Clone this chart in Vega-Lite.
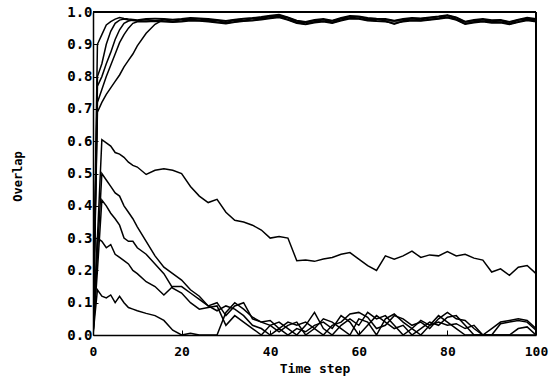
{
"$schema": "https://vega.github.io/schema/vega-lite/v6.json",
"width": 443, "height": 323,
"autosize": {"type": "none"},
"padding": {"left": 93, "top": 12, "right": 19, "bottom": 43},
"background": "white",
"config": {"view": {"stroke": null}, "axis": {"labelFont": "DejaVu Sans Mono", "labelFontWeight": "bold", "labelFontSize": 14, "labelColor": "black", "titleFont": "DejaVu Sans Mono", "titleFontWeight": "bold", "titleFontSize": 13, "titleColor": "black", "domainColor": "black", "domainWidth": 1.5, "tickColor": "black", "tickWidth": 1, "grid": false, "labelFlush": false, "labelOverlap": false}},
"datasets": {"d": [
{"s":"a","t":0,"v":0},{"s":"a","t":1,"v":0.90},{"s":"a","t":2,"v":0.93},{"s":"a","t":3,"v":0.96},{"s":"a","t":4,"v":0.97},{"s":"a","t":5,"v":0.978},{"s":"a","t":6,"v":0.983},{"s":"a","t":7,"v":0.98},{"s":"a","t":8,"v":0.978},{"s":"a","t":9,"v":0.977},{"s":"a","t":10,"v":0.975},
{"s":"a","t":12,"v":0.979},{"s":"a","t":14,"v":0.980},{"s":"a","t":16,"v":0.979},{"s":"a","t":18,"v":0.977},{"s":"a","t":20,"v":0.979},{"s":"a","t":22,"v":0.982},{"s":"a","t":24,"v":0.981},{"s":"a","t":26,"v":0.979},{"s":"a","t":28,"v":0.976},{"s":"a","t":30,"v":0.973},{"s":"a","t":32,"v":0.977},{"s":"a","t":34,"v":0.980},{"s":"a","t":36,"v":0.982},{"s":"a","t":38,"v":0.985},{"s":"a","t":40,"v":0.989},{"s":"a","t":42,"v":0.992},{"s":"a","t":44,"v":0.984},{"s":"a","t":46,"v":0.974},{"s":"a","t":48,"v":0.970},{"s":"a","t":50,"v":0.976},{"s":"a","t":52,"v":0.979},{"s":"a","t":54,"v":0.974},{"s":"a","t":56,"v":0.982},{"s":"a","t":58,"v":0.988},{"s":"a","t":60,"v":0.987},{"s":"a","t":62,"v":0.982},{"s":"a","t":64,"v":0.980},{"s":"a","t":66,"v":0.979},{"s":"a","t":68,"v":0.974},{"s":"a","t":70,"v":0.979},{"s":"a","t":72,"v":0.982},{"s":"a","t":74,"v":0.981},{"s":"a","t":76,"v":0.984},{"s":"a","t":78,"v":0.987},{"s":"a","t":80,"v":0.991},{"s":"a","t":82,"v":0.984},{"s":"a","t":84,"v":0.971},{"s":"a","t":86,"v":0.976},{"s":"a","t":88,"v":0.979},{"s":"a","t":90,"v":0.975},{"s":"a","t":92,"v":0.976},{"s":"a","t":94,"v":0.970},{"s":"a","t":96,"v":0.977},{"s":"a","t":98,"v":0.983},{"s":"a","t":100,"v":0.979},
{"s":"b","t":0,"v":0},{"s":"b","t":1,"v":0.80},{"s":"b","t":2,"v":0.84},{"s":"b","t":3,"v":0.90},{"s":"b","t":4,"v":0.94},{"s":"b","t":5,"v":0.965},{"s":"b","t":6,"v":0.975},{"s":"b","t":7,"v":0.978},{"s":"b","t":8,"v":0.975},{"s":"b","t":9,"v":0.974},{"s":"b","t":10,"v":0.972},
{"s":"b","t":12,"v":0.972},{"s":"b","t":14,"v":0.973},{"s":"b","t":16,"v":0.972},{"s":"b","t":18,"v":0.970},{"s":"b","t":20,"v":0.972},{"s":"b","t":22,"v":0.975},{"s":"b","t":24,"v":0.974},{"s":"b","t":26,"v":0.972},{"s":"b","t":28,"v":0.969},{"s":"b","t":30,"v":0.966},{"s":"b","t":32,"v":0.970},{"s":"b","t":34,"v":0.973},{"s":"b","t":36,"v":0.975},{"s":"b","t":38,"v":0.978},{"s":"b","t":40,"v":0.982},{"s":"b","t":42,"v":0.985},{"s":"b","t":44,"v":0.977},{"s":"b","t":46,"v":0.967},{"s":"b","t":48,"v":0.963},{"s":"b","t":50,"v":0.969},{"s":"b","t":52,"v":0.972},{"s":"b","t":54,"v":0.967},{"s":"b","t":56,"v":0.975},{"s":"b","t":58,"v":0.981},{"s":"b","t":60,"v":0.980},{"s":"b","t":62,"v":0.975},{"s":"b","t":64,"v":0.973},{"s":"b","t":66,"v":0.972},{"s":"b","t":68,"v":0.962},{"s":"b","t":70,"v":0.972},{"s":"b","t":72,"v":0.975},{"s":"b","t":74,"v":0.974},{"s":"b","t":76,"v":0.977},{"s":"b","t":78,"v":0.980},{"s":"b","t":80,"v":0.984},{"s":"b","t":82,"v":0.977},{"s":"b","t":84,"v":0.964},{"s":"b","t":86,"v":0.969},{"s":"b","t":88,"v":0.972},{"s":"b","t":90,"v":0.968},{"s":"b","t":92,"v":0.969},{"s":"b","t":94,"v":0.963},{"s":"b","t":96,"v":0.970},{"s":"b","t":98,"v":0.976},{"s":"b","t":100,"v":0.972},
{"s":"c","t":0,"v":0},{"s":"c","t":1,"v":0.77},{"s":"c","t":2,"v":0.80},{"s":"c","t":3,"v":0.84},{"s":"c","t":4,"v":0.875},{"s":"c","t":5,"v":0.915},{"s":"c","t":6,"v":0.945},{"s":"c","t":7,"v":0.965},{"s":"c","t":8,"v":0.972},{"s":"c","t":9,"v":0.975},{"s":"c","t":10,"v":0.973},
{"s":"c","t":12,"v":0.977},{"s":"c","t":14,"v":0.974},{"s":"c","t":16,"v":0.977},{"s":"c","t":18,"v":0.971},{"s":"c","t":20,"v":0.977},{"s":"c","t":22,"v":0.976},{"s":"c","t":24,"v":0.979},{"s":"c","t":26,"v":0.973},{"s":"c","t":28,"v":0.974},{"s":"c","t":30,"v":0.967},{"s":"c","t":32,"v":0.975},{"s":"c","t":34,"v":0.974},{"s":"c","t":36,"v":0.980},{"s":"c","t":38,"v":0.979},{"s":"c","t":40,"v":0.987},{"s":"c","t":42,"v":0.986},{"s":"c","t":44,"v":0.982},{"s":"c","t":46,"v":0.968},{"s":"c","t":48,"v":0.968},{"s":"c","t":50,"v":0.970},{"s":"c","t":52,"v":0.977},{"s":"c","t":54,"v":0.968},{"s":"c","t":56,"v":0.980},{"s":"c","t":58,"v":0.982},{"s":"c","t":60,"v":0.985},{"s":"c","t":62,"v":0.976},{"s":"c","t":64,"v":0.978},{"s":"c","t":66,"v":0.973},{"s":"c","t":68,"v":0.972},{"s":"c","t":70,"v":0.973},{"s":"c","t":72,"v":0.980},{"s":"c","t":74,"v":0.975},{"s":"c","t":76,"v":0.982},{"s":"c","t":78,"v":0.981},{"s":"c","t":80,"v":0.989},{"s":"c","t":82,"v":0.978},{"s":"c","t":84,"v":0.969},{"s":"c","t":86,"v":0.970},{"s":"c","t":88,"v":0.977},{"s":"c","t":90,"v":0.969},{"s":"c","t":92,"v":0.974},{"s":"c","t":94,"v":0.964},{"s":"c","t":96,"v":0.975},{"s":"c","t":98,"v":0.977},{"s":"c","t":100,"v":0.977},
{"s":"d","t":0,"v":0},{"s":"d","t":1,"v":0.72},{"s":"d","t":2,"v":0.76},{"s":"d","t":3,"v":0.80},{"s":"d","t":4,"v":0.835},{"s":"d","t":5,"v":0.87},{"s":"d","t":6,"v":0.905},{"s":"d","t":7,"v":0.93},{"s":"d","t":8,"v":0.95},{"s":"d","t":9,"v":0.965},{"s":"d","t":10,"v":0.97},
{"s":"d","t":12,"v":0.970},{"s":"d","t":14,"v":0.971},{"s":"d","t":16,"v":0.970},{"s":"d","t":18,"v":0.968},{"s":"d","t":20,"v":0.970},{"s":"d","t":22,"v":0.973},{"s":"d","t":24,"v":0.972},{"s":"d","t":26,"v":0.970},{"s":"d","t":28,"v":0.967},{"s":"d","t":30,"v":0.964},{"s":"d","t":32,"v":0.968},{"s":"d","t":34,"v":0.971},{"s":"d","t":36,"v":0.973},{"s":"d","t":38,"v":0.976},{"s":"d","t":40,"v":0.980},{"s":"d","t":42,"v":0.983},{"s":"d","t":44,"v":0.975},{"s":"d","t":46,"v":0.965},{"s":"d","t":48,"v":0.961},{"s":"d","t":50,"v":0.967},{"s":"d","t":52,"v":0.970},{"s":"d","t":54,"v":0.965},{"s":"d","t":56,"v":0.973},{"s":"d","t":58,"v":0.979},{"s":"d","t":60,"v":0.978},{"s":"d","t":62,"v":0.973},{"s":"d","t":64,"v":0.971},{"s":"d","t":66,"v":0.970},{"s":"d","t":68,"v":0.965},{"s":"d","t":70,"v":0.970},{"s":"d","t":72,"v":0.973},{"s":"d","t":74,"v":0.972},{"s":"d","t":76,"v":0.975},{"s":"d","t":78,"v":0.978},{"s":"d","t":80,"v":0.982},{"s":"d","t":82,"v":0.975},{"s":"d","t":84,"v":0.962},{"s":"d","t":86,"v":0.967},{"s":"d","t":88,"v":0.970},{"s":"d","t":90,"v":0.966},{"s":"d","t":92,"v":0.967},{"s":"d","t":94,"v":0.961},{"s":"d","t":96,"v":0.968},{"s":"d","t":98,"v":0.974},{"s":"d","t":100,"v":0.970},
{"s":"e","t":0,"v":0},{"s":"e","t":1,"v":0.69},{"s":"e","t":2,"v":0.72},{"s":"e","t":3,"v":0.745},{"s":"e","t":4,"v":0.765},{"s":"e","t":5,"v":0.785},{"s":"e","t":6,"v":0.805},{"s":"e","t":7,"v":0.83},{"s":"e","t":8,"v":0.85},{"s":"e","t":9,"v":0.87},{"s":"e","t":10,"v":0.895},
{"s":"e","t":12,"v":0.934},{"s":"e","t":14,"v":0.962},{"s":"e","t":16,"v":0.977},{"s":"e","t":18,"v":0.975},{"s":"e","t":20,"v":0.977},{"s":"e","t":22,"v":0.980},{"s":"e","t":24,"v":0.979},{"s":"e","t":26,"v":0.977},{"s":"e","t":28,"v":0.974},{"s":"e","t":30,"v":0.971},{"s":"e","t":32,"v":0.975},{"s":"e","t":34,"v":0.978},{"s":"e","t":36,"v":0.980},{"s":"e","t":38,"v":0.983},{"s":"e","t":40,"v":0.987},{"s":"e","t":42,"v":0.990},{"s":"e","t":44,"v":0.982},{"s":"e","t":46,"v":0.972},{"s":"e","t":48,"v":0.968},{"s":"e","t":50,"v":0.974},{"s":"e","t":52,"v":0.977},{"s":"e","t":54,"v":0.972},{"s":"e","t":56,"v":0.980},{"s":"e","t":58,"v":0.986},{"s":"e","t":60,"v":0.985},{"s":"e","t":62,"v":0.980},{"s":"e","t":64,"v":0.978},{"s":"e","t":66,"v":0.977},{"s":"e","t":68,"v":0.972},{"s":"e","t":70,"v":0.977},{"s":"e","t":72,"v":0.980},{"s":"e","t":74,"v":0.979},{"s":"e","t":76,"v":0.982},{"s":"e","t":78,"v":0.985},{"s":"e","t":80,"v":0.989},{"s":"e","t":82,"v":0.982},{"s":"e","t":84,"v":0.969},{"s":"e","t":86,"v":0.974},{"s":"e","t":88,"v":0.977},{"s":"e","t":90,"v":0.973},{"s":"e","t":92,"v":0.974},{"s":"e","t":94,"v":0.968},{"s":"e","t":96,"v":0.975},{"s":"e","t":98,"v":0.981},{"s":"e","t":100,"v":0.977},
{"s":"m","t":0,"v":0},{"s":"m","t":1,"v":0.30},{"s":"m","t":2,"v":0.605},{"s":"m","t":3,"v":0.595},{"s":"m","t":4,"v":0.585},{"s":"m","t":5,"v":0.565},{"s":"m","t":6,"v":0.56},{"s":"m","t":7,"v":0.55},{"s":"m","t":8,"v":0.535},{"s":"m","t":9,"v":0.525},{"s":"m","t":10,"v":0.52},
{"s":"m","t":12,"v":0.497},{"s":"m","t":14,"v":0.51},{"s":"m","t":16,"v":0.515},{"s":"m","t":18,"v":0.51},{"s":"m","t":20,"v":0.50},{"s":"m","t":22,"v":0.46},{"s":"m","t":24,"v":0.43},{"s":"m","t":26,"v":0.41},{"s":"m","t":28,"v":0.42},{"s":"m","t":30,"v":0.38},{"s":"m","t":32,"v":0.355},{"s":"m","t":34,"v":0.35},{"s":"m","t":36,"v":0.34},{"s":"m","t":38,"v":0.325},{"s":"m","t":40,"v":0.30},{"s":"m","t":42,"v":0.305},{"s":"m","t":44,"v":0.30},{"s":"m","t":46,"v":0.23},{"s":"m","t":48,"v":0.232},{"s":"m","t":50,"v":0.228},{"s":"m","t":52,"v":0.235},{"s":"m","t":54,"v":0.24},{"s":"m","t":56,"v":0.25},{"s":"m","t":58,"v":0.255},{"s":"m","t":60,"v":0.235},{"s":"m","t":62,"v":0.215},{"s":"m","t":64,"v":0.20},{"s":"m","t":66,"v":0.245},{"s":"m","t":68,"v":0.235},{"s":"m","t":70,"v":0.245},{"s":"m","t":72,"v":0.26},{"s":"m","t":74,"v":0.24},{"s":"m","t":76,"v":0.248},{"s":"m","t":78,"v":0.245},{"s":"m","t":80,"v":0.258},{"s":"m","t":82,"v":0.245},{"s":"m","t":84,"v":0.25},{"s":"m","t":86,"v":0.238},{"s":"m","t":88,"v":0.232},{"s":"m","t":90,"v":0.195},{"s":"m","t":92,"v":0.205},{"s":"m","t":94,"v":0.185},{"s":"m","t":96,"v":0.21},{"s":"m","t":98,"v":0.215},{"s":"m","t":100,"v":0.19},
{"s":"p","t":0,"v":0},{"s":"p","t":1,"v":0.25},{"s":"p","t":2,"v":0.50},{"s":"p","t":3,"v":0.48},{"s":"p","t":4,"v":0.46},{"s":"p","t":5,"v":0.44},{"s":"p","t":6,"v":0.43},{"s":"p","t":7,"v":0.40},{"s":"p","t":8,"v":0.38},{"s":"p","t":9,"v":0.36},{"s":"p","t":10,"v":0.335},
{"s":"p","t":12,"v":0.29},{"s":"p","t":14,"v":0.245},{"s":"p","t":16,"v":0.21},{"s":"p","t":18,"v":0.19},{"s":"p","t":20,"v":0.17},{"s":"p","t":22,"v":0.14},{"s":"p","t":24,"v":0.12},{"s":"p","t":26,"v":0.09},{"s":"p","t":28,"v":0.10},{"s":"p","t":30,"v":0.06},{"s":"p","t":32,"v":0.09},{"s":"p","t":34,"v":0.10},{"s":"p","t":36,"v":0.05},{"s":"p","t":38,"v":0.04},{"s":"p","t":40,"v":0.045},{"s":"p","t":42,"v":0.02},{"s":"p","t":44,"v":0.04},{"s":"p","t":46,"v":0.03},{"s":"p","t":48,"v":0.04},{"s":"p","t":50,"v":0.02},{"s":"p","t":52,"v":0.0},{"s":"p","t":54,"v":0.03},{"s":"p","t":56,"v":0.04},{"s":"p","t":58,"v":0.065},{"s":"p","t":60,"v":0.07},{"s":"p","t":62,"v":0.055},{"s":"p","t":64,"v":0.02},{"s":"p","t":66,"v":0.03},{"s":"p","t":68,"v":0.06},{"s":"p","t":70,"v":0.05},{"s":"p","t":72,"v":0.03},{"s":"p","t":74,"v":0.04},{"s":"p","t":76,"v":0.02},{"s":"p","t":78,"v":0.05},{"s":"p","t":80,"v":0.07},{"s":"p","t":82,"v":0.05},{"s":"p","t":84,"v":0.045},{"s":"p","t":86,"v":0.02},{"s":"p","t":88,"v":0.0},{"s":"p","t":90,"v":0.0},{"s":"p","t":92,"v":0.035},{"s":"p","t":94,"v":0.04},{"s":"p","t":96,"v":0.045},{"s":"p","t":98,"v":0.04},{"s":"p","t":100,"v":0.015},
{"s":"q","t":0,"v":0},{"s":"q","t":1,"v":0.20},{"s":"q","t":2,"v":0.418},{"s":"q","t":3,"v":0.40},{"s":"q","t":4,"v":0.377},{"s":"q","t":5,"v":0.36},{"s":"q","t":6,"v":0.34},{"s":"q","t":7,"v":0.30},{"s":"q","t":8,"v":0.29},{"s":"q","t":9,"v":0.29},{"s":"q","t":10,"v":0.27},
{"s":"q","t":12,"v":0.25},{"s":"q","t":14,"v":0.22},{"s":"q","t":16,"v":0.19},{"s":"q","t":18,"v":0.145},{"s":"q","t":20,"v":0.13},{"s":"q","t":22,"v":0.10},{"s":"q","t":24,"v":0.08},{"s":"q","t":26,"v":0.085},{"s":"q","t":28,"v":0.09},{"s":"q","t":30,"v":0.03},{"s":"q","t":32,"v":0.06},{"s":"q","t":34,"v":0.04},{"s":"q","t":36,"v":0.02},{"s":"q","t":38,"v":0.0},{"s":"q","t":40,"v":0.03},{"s":"q","t":42,"v":0.04},{"s":"q","t":44,"v":0.02},{"s":"q","t":46,"v":0.0},{"s":"q","t":48,"v":0.03},{"s":"q","t":50,"v":0.07},{"s":"q","t":52,"v":0.02},{"s":"q","t":54,"v":0.0},{"s":"q","t":56,"v":0.03},{"s":"q","t":58,"v":0.05},{"s":"q","t":60,"v":0.03},{"s":"q","t":62,"v":0.07},{"s":"q","t":64,"v":0.05},{"s":"q","t":66,"v":0.06},{"s":"q","t":68,"v":0.03},{"s":"q","t":70,"v":0.0},{"s":"q","t":72,"v":0.02},{"s":"q","t":74,"v":0.045},{"s":"q","t":76,"v":0.03},{"s":"q","t":78,"v":0.06},{"s":"q","t":80,"v":0.04},{"s":"q","t":82,"v":0.02},{"s":"q","t":84,"v":0.0},{"s":"q","t":86,"v":0.0},{"s":"q","t":88,"v":0.0},{"s":"q","t":90,"v":0.0},{"s":"q","t":92,"v":0.0},{"s":"q","t":94,"v":0.0},{"s":"q","t":96,"v":0.02},{"s":"q","t":98,"v":0.025},{"s":"q","t":100,"v":0.0},
{"s":"r","t":0,"v":0},{"s":"r","t":1,"v":0.30},{"s":"r","t":2,"v":0.29},{"s":"r","t":3,"v":0.27},{"s":"r","t":4,"v":0.28},{"s":"r","t":5,"v":0.25},{"s":"r","t":6,"v":0.24},{"s":"r","t":7,"v":0.23},{"s":"r","t":8,"v":0.22},{"s":"r","t":9,"v":0.20},{"s":"r","t":10,"v":0.19},
{"s":"r","t":12,"v":0.165},{"s":"r","t":14,"v":0.15},{"s":"r","t":16,"v":0.124},{"s":"r","t":18,"v":0.15},{"s":"r","t":20,"v":0.15},{"s":"r","t":22,"v":0.13},{"s":"r","t":24,"v":0.11},{"s":"r","t":26,"v":0.09},{"s":"r","t":28,"v":0.075},{"s":"r","t":30,"v":0.09},{"s":"r","t":32,"v":0.08},{"s":"r","t":34,"v":0.06},{"s":"r","t":36,"v":0.03},{"s":"r","t":38,"v":0.02},{"s":"r","t":40,"v":0.0},{"s":"r","t":42,"v":0.02},{"s":"r","t":44,"v":0.0},{"s":"r","t":46,"v":0.02},{"s":"r","t":48,"v":0.01},{"s":"r","t":50,"v":0.03},{"s":"r","t":52,"v":0.04},{"s":"r","t":54,"v":0.02},{"s":"r","t":56,"v":0.06},{"s":"r","t":58,"v":0.04},{"s":"r","t":60,"v":0.0},{"s":"r","t":62,"v":0.03},{"s":"r","t":64,"v":0.06},{"s":"r","t":66,"v":0.04},{"s":"r","t":68,"v":0.02},{"s":"r","t":70,"v":0.03},{"s":"r","t":72,"v":0.0},{"s":"r","t":74,"v":0.02},{"s":"r","t":76,"v":0.04},{"s":"r","t":78,"v":0.03},{"s":"r","t":80,"v":0.055},{"s":"r","t":82,"v":0.06},{"s":"r","t":84,"v":0.03},{"s":"r","t":86,"v":0.0},{"s":"r","t":88,"v":0.0},{"s":"r","t":90,"v":0.0},{"s":"r","t":92,"v":0.0},{"s":"r","t":94,"v":0.0},{"s":"r","t":96,"v":0.0},{"s":"r","t":98,"v":0.0},{"s":"r","t":100,"v":0.0},
{"s":"s","t":0,"v":0},{"s":"s","t":1,"v":0.14},{"s":"s","t":2,"v":0.12},{"s":"s","t":3,"v":0.115},{"s":"s","t":4,"v":0.124},{"s":"s","t":5,"v":0.10},{"s":"s","t":6,"v":0.12},{"s":"s","t":7,"v":0.10},{"s":"s","t":8,"v":0.085},{"s":"s","t":9,"v":0.08},{"s":"s","t":10,"v":0.075},
{"s":"s","t":12,"v":0.067},{"s":"s","t":14,"v":0.06},{"s":"s","t":16,"v":0.045},{"s":"s","t":18,"v":0.015},{"s":"s","t":20,"v":0.0},{"s":"s","t":22,"v":0.005},{"s":"s","t":24,"v":0.0},{"s":"s","t":26,"v":0.0},{"s":"s","t":28,"v":0.0},{"s":"s","t":30,"v":0.07},{"s":"s","t":32,"v":0.10},{"s":"s","t":34,"v":0.08},{"s":"s","t":36,"v":0.055},{"s":"s","t":38,"v":0.04},{"s":"s","t":40,"v":0.03},{"s":"s","t":42,"v":0.01},{"s":"s","t":44,"v":0.03},{"s":"s","t":46,"v":0.04},{"s":"s","t":48,"v":0.0},{"s":"s","t":50,"v":0.02},{"s":"s","t":52,"v":0.05},{"s":"s","t":54,"v":0.04},{"s":"s","t":56,"v":0.02},{"s":"s","t":58,"v":0.0},{"s":"s","t":60,"v":0.05},{"s":"s","t":62,"v":0.04},{"s":"s","t":64,"v":0.0},{"s":"s","t":66,"v":0.05},{"s":"s","t":68,"v":0.065},{"s":"s","t":70,"v":0.04},{"s":"s","t":72,"v":0.02},{"s":"s","t":74,"v":0.0},{"s":"s","t":76,"v":0.03},{"s":"s","t":78,"v":0.04},{"s":"s","t":80,"v":0.03},{"s":"s","t":82,"v":0.035},{"s":"s","t":84,"v":0.02},{"s":"s","t":86,"v":0.03},{"s":"s","t":88,"v":0.0},{"s":"s","t":90,"v":0.02},{"s":"s","t":92,"v":0.04},{"s":"s","t":94,"v":0.045},{"s":"s","t":96,"v":0.05},{"s":"s","t":98,"v":0.045},{"s":"s","t":100,"v":0.02}
]},
"data": {"name": "d"},
"encoding": {
  "x": {"field": "t", "type": "quantitative", "scale": {"domain": [0, 100], "nice": false}, "axis": {"orient": "bottom", "values": [0, 20, 40, 60, 80, 100], "tickSize": -5, "labelPadding": 15, "labelFontSize": 13, "title": "Time step", "titleBaseline": "middle", "titleY": 33}},
  "y": {"field": "v", "type": "quantitative", "scale": {"domain": [0, 1], "nice": false, "zero": false}, "axis": {"orient": "left", "values": [0, 0.1, 0.2, 0.3, 0.4, 0.5, 0.6, 0.7, 0.8, 0.9, 1.0], "format": ".1f", "tickSize": -5, "labelPadding": 6, "title": "Overlap", "titleFontSize": 12, "titleX": -76, "titleY": 164, "titleBaseline": "middle"}}
},
"layer": [
{"mark": {"type": "line", "color": "black", "strokeWidth": 1.5, "clip": true},
 "encoding": {
  "detail": {"field": "s", "type": "nominal"},
  "order": {"field": "t", "type": "quantitative"}
 }},
{"mark": {"type": "rule", "color": "black", "strokeWidth": 1.5},
 "encoding": {"y": {"datum": 1}, "x": null}},
{"mark": {"type": "rule", "color": "black", "strokeWidth": 1.5},
 "encoding": {"x": {"datum": 100}, "y": null}},
{"mark": {"type": "rule", "color": "black", "strokeWidth": 1},
 "data": {"values": [{"k": 20}, {"k": 40}, {"k": 60}, {"k": 80}]},
 "encoding": {"x": {"field": "k", "type": "quantitative"}, "y": {"datum": 1}, "y2": {"datum": 0.985}}},
{"mark": {"type": "rule", "color": "black", "strokeWidth": 1},
 "data": {"values": [{"k": 0.1}, {"k": 0.2}, {"k": 0.3}, {"k": 0.4}, {"k": 0.5}, {"k": 0.6}, {"k": 0.7}, {"k": 0.8}, {"k": 0.9}]},
 "encoding": {"y": {"field": "k", "type": "quantitative"}, "x": {"datum": 100}, "x2": {"datum": 98.9}}}
]
}
